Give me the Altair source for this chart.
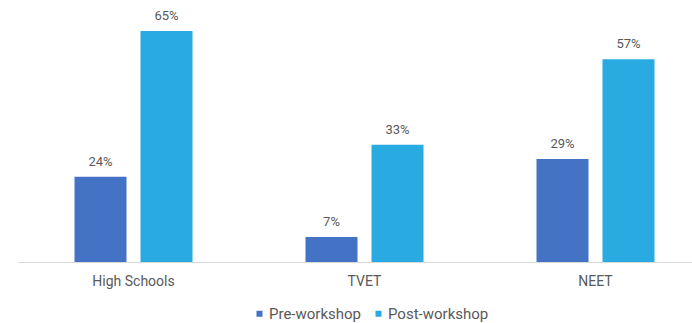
import altair as alt
import pandas as pd

categories = ["High Schools", "TVET", "NEET"]
series = ["Pre-workshop", "Post-workshop"]
pre_values = [24, 7, 29]
post_values = [65, 33, 57]

rows = []
for c, a, b in zip(categories, pre_values, post_values):
    rows.append({"cat": c, "series": series[0], "value": a})
    rows.append({"cat": c, "series": series[1], "value": b})
df = pd.DataFrame(rows)
df["label"] = df["value"].astype(str) + "%"

font = "Roboto"
gray = "#595959"
colors = ["#4472C4", "#29ABE2"]

x = alt.X("cat:N", sort=categories, title=None,
          scale=alt.Scale(range=[0, 693], paddingInner=0, paddingOuter=0),
          axis=alt.Axis(labelAngle=0, ticks=False, domainColor="#d9d9d9", labelColor=gray,
                        labelFont=font, labelFontSize=14, labelPadding=12))
xo = alt.XOffset("series:N", sort=series,
                 scale=alt.Scale(paddingInner=0.212, paddingOuter=0.856))
y = alt.Y("value:Q", scale=alt.Scale(domain=[0, 72], nice=False), axis=None)

bars = alt.Chart(df).mark_bar(size=52).encode(
    x=x, xOffset=xo, y=y,
    color=alt.Color("series:N", sort=series,
                    scale=alt.Scale(domain=series, range=colors),
                    legend=alt.Legend(title=None, orient="none", direction="horizontal",
                                      legendX=234, legendY=300, symbolType="square",
                                      symbolSize=36, labelFont=font, labelFontSize=15,
                                      labelColor=gray, columnPadding=10, labelOffset=2,
                                      symbolStrokeWidth=0))
)
labels = alt.Chart(df).mark_text(baseline="bottom", dy=-8, font=font, fontSize=13, color=gray).encode(
    x=x, xOffset=xo, y=y, text="label:N"
)

chart = (bars + labels).properties(
    width=672, height=256,
    padding={"left": 18, "top": 6, "right": 2, "bottom": 61},
    autosize=alt.AutoSizeParams(type="none"),
    background="white",
).configure_view(stroke=None)

chart.save("out.html", embed_options={"renderer": "svg", "actions": False})
